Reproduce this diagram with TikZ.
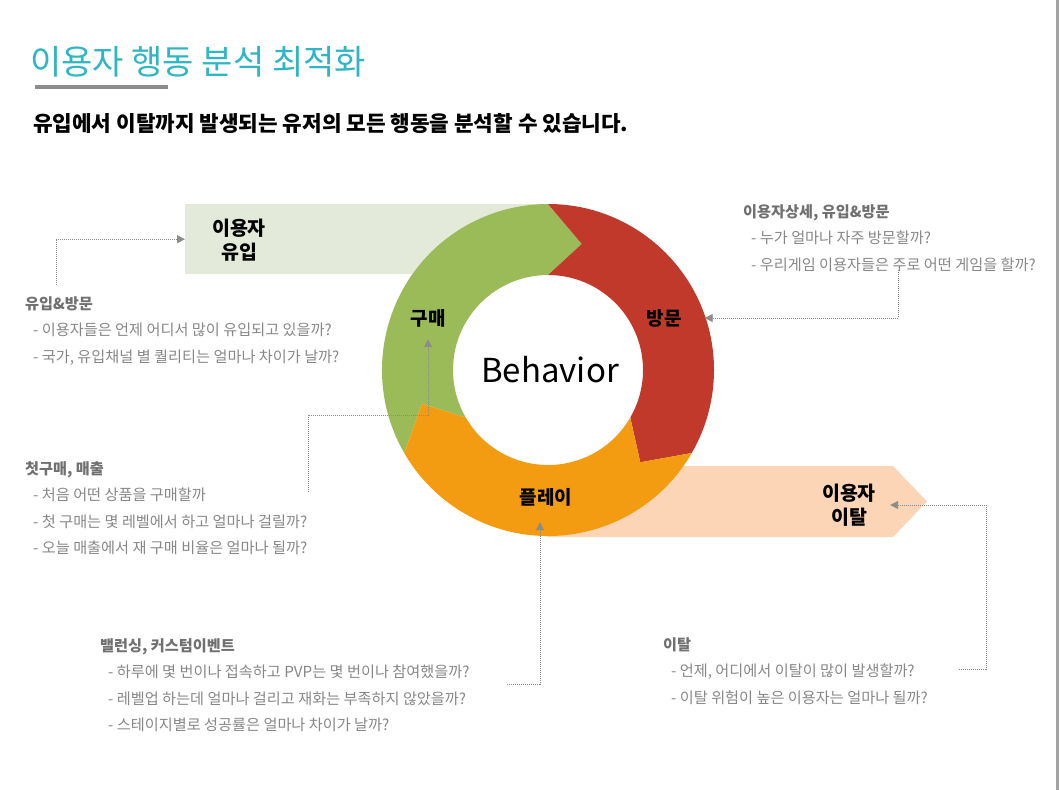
\documentclass[tikz,border=0pt]{standalone}
\usepackage{fontspec}
\setmainfont{Noto Sans CJK KR}
\usetikzlibrary{arrows.meta}
\definecolor{titlec}{HTML}{2EB6C4}
\definecolor{barc}{HTML}{8C8C8C}
\definecolor{buyc}{HTML}{9BBB59}
\definecolor{visitc}{HTML}{C0392B}
\definecolor{playc}{HTML}{F39C12}
\definecolor{inflowc}{HTML}{E3EAD9}
\definecolor{churnc}{HTML}{FBD5B5}
\definecolor{headc}{HTML}{707070}
\definecolor{itemc}{HTML}{878787}
\definecolor{linkc}{HTML}{8C8C8C}
\newcommand{\qhead}[1]{{\bfseries\color{headc}#1}}
\newcommand{\qitem}[1]{\hspace*{8pt}{\color{itemc}- #1}}
\tikzset{
  stage/.style={font=\fontsize{19}{19}\selectfont\bfseries, inner sep=2pt},
  bandlabel/.style={font=\fontsize{19.5}{24.5}\selectfont\bfseries, align=center, inner sep=0pt},
  question/.style={font=\fontsize{15.2}{26.5}\selectfont, align=left, anchor=north west, inner sep=0pt},
  link/.style={draw=linkc, line width=0.8pt, dash pattern=on 1pt off 1pt, -{Triangle[length=8pt,width=8pt]}},
}

\begin{document}
\begin{tikzpicture}[x=1pt,y=-1pt]
\useasboundingbox (0,0) rectangle (1059,790);
\fill[barc!80] (1056,0) rectangle (1059,790);
\node[anchor=west, inner sep=0pt, text=titlec, font=\fontsize{34}{34}\selectfont] (title) at (30,62) {이용자 행동 분석 최적화};
\fill[barc] (35,85) rectangle (168,89);
\node[anchor=west, inner sep=0pt, font=\fontsize{21.3}{21.3}\selectfont\bfseries] (subtitle) at (33,123) {유입에서 이탈까지 발생되는 유저의 모든 행동을 분석할 수 있습니다.};

\node[fill=inflowc, anchor=north west, minimum width=363pt, minimum height=70pt, inner sep=0pt] (inflowbar) at (185,204) {};
\fill[churnc] (548,466) -- (893,466) -- (927,501.5) -- (893,537) -- (548,537) -- cycle;

\begin{scope}[shift={(548,370)}]
\fill[buyc] (210:166pt) arc[start angle=210, end angle=90, radius=166pt] -- (75:130.5pt) -- (90:95pt) arc[start angle=90, end angle=210, radius=95pt] -- (195:130.5pt) -- cycle;
\fill[visitc] (90:166pt) arc[start angle=90, end angle=-30, radius=166pt] -- (-45:130.5pt) -- (-30:95pt) arc[start angle=-30, end angle=90, radius=95pt] -- (75:130.5pt) -- cycle;
\fill[playc] (-30:166pt) arc[start angle=-30, end angle=-150, radius=166pt] -- (-165:130.5pt) -- (-150:95pt) arc[start angle=-150, end angle=-30, radius=95pt] -- (-45:130.5pt) -- cycle;
\end{scope}

\node[stage] (buy) at (428,318) {구매};
\node[stage] (visit) at (664,318) {방문};
\node[stage] (play) at (546,497) {플레이};
\node[font=\fontsize{33}{33}\selectfont] (behavior) at (550,370) {Behavior};
\node[bandlabel] (inflow) at (239,240) {이용자\\유입};
\node[bandlabel] (churn) at (849,505) {이용자\\이탈};

\node[question] (visitq) at (743,204) {\qhead{이용자상세, 유입\&방문}\\\qitem{누가 얼마나 자주 방문할까?}\\\qitem{우리게임 이용자들은 주로 어떤 게임을 할까?}};
\node[question] (inflowq) at (25,296) {\qhead{유입\&방문}\\\qitem{이용자들은 언제 어디서 많이 유입되고 있을까?}\\\qitem{국가, 유입채널 별 퀄리티는 얼마나 차이가 날까?}};
\node[question] (buyq) at (25,461) {\qhead{첫구매, 매출}\\\qitem{처음 어떤 상품을 구매할까}\\\qitem{첫 구매는 몇 레벨에서 하고 얼마나 걸릴까?}\\\qitem{오늘 매출에서 재 구매 비율은 얼마나 될까?}};
\node[question] (playq) at (100,638) {\qhead{밸런싱, 커스텀이벤트}\\\qitem{하루에 몇 번이나 접속하고 PVP는 몇 번이나 참여했을까?}\\\qitem{레벨업 하는데 얼마나 걸리고 재화는 부족하지 않았을까?}\\\qitem{스테이지별로 성공률은 얼마나 차이가 날까?}};
\node[question] (churnq) at (663,637) {\qhead{이탈}\\\qitem{언제, 어디에서 이탈이 많이 발생할까?}\\\qitem{이탈 위험이 높은 이용자는 얼마나 될까?}};

\coordinate (inflowtail) at (56,285);
\coordinate (visittail) at (898,270);
\coordinate (buytail) at (308,492);
\coordinate (playtail) at (507,684);
\coordinate (churntail) at (959,669);
\draw[link] (inflowtail) |- (inflowbar.west);
\draw[link] (visittail) |- ([xshift=21pt]visit.east);
\draw[link] (buytail) -- ++(0,-77) -| ([yshift=-10pt]buy.south);
\draw[link] (playtail) -| ([xshift=-6pt,yshift=-14pt]play.south);
\draw[link] (churntail) -- ++(27,0) |- ([xshift=14pt]churn.east);
\end{tikzpicture}
\end{document}
